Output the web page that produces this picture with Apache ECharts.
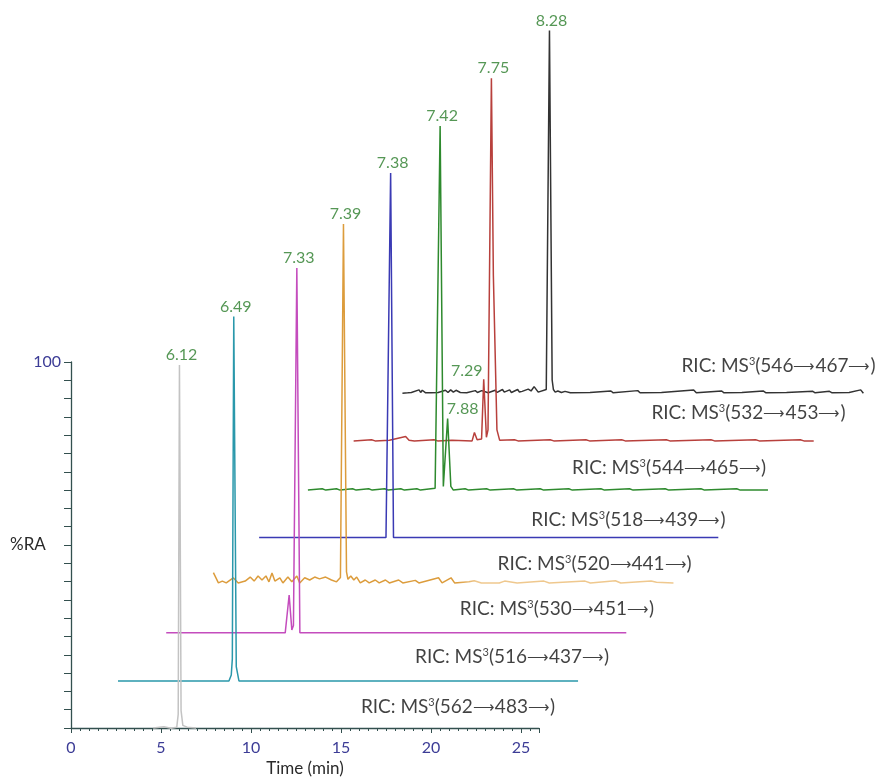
<!DOCTYPE html>
<html>
<head>
<meta charset="utf-8">
<script src="https://cdn.jsdelivr.net/npm/echarts@6/dist/echarts.min.js"></script>
<style>html,body{margin:0;padding:0;background:#fff}#c{width:875px;height:778px}</style>
</head>
<body>
<div id="c"></div>
<script>
// ---- Data (time in min relative to each trace's own start, intensity in %RA) ----
const traceLabels = ['562→483→','516→437→','530→451→','520→441→','518→439→','544→465→','532→453→','546→467→'];

const grayT = [4.6, 5.2, 5.6, 5.92, 6.0, 6.07, 6.16, 6.26, 6.5, 7.0];
const grayV = [0.3, 0.6, 0.2, 0.5, 4, 99.2, 5, 1, 0.5, 0.3];

const tealT = [0, 6.21, 6.34, 6.40, 6.48, 6.62, 6.77, 25.75];
const tealV = [0, 0, 1.6, 6, 99.3, 3.9, 0, 0];

const magentaT = [0, 6.66, 6.88, 7.03, 7.12, 7.31, 7.48, 25.75];
const magentaV = [0, 0, 10.3, 0.8, 2, 99.4, 0, 0];

const orangeT = [0, 0.28, 0.5, 0.72, 1.11, 1.39, 1.78, 2.06, 2.28, 2.5, 2.72, 2.94, 3.11, 3.28, 3.44, 3.72, 3.89, 4.17, 4.39, 4.67, 4.83, 5.11, 5.39, 5.67, 5.94, 6.28, 6.61, 6.89, 7.11, 7.28, 7.45, 7.53, 7.69, 7.86, 8.02, 8.22, 8.5, 8.72, 9.06, 9.28, 9.63, 9.85, 10.37, 10.6, 11.3, 11.5, 12.6, 12.8, 13.3, 13.5, 14.3, 14.6, 15.0, 16.0, 16.3, 17.0, 18.5, 18.8, 20.8, 21.1, 22.5, 22.8, 24.5, 24.8, 25.75];
const orangeV = [2.8, 0, 0.5, 0, 1.4, 0, 0.5, 1.6, 0.5, 1.9, 0.8, 1.9, 0.3, 2.7, 0.5, 1.4, 0, 1.6, 0.3, 1.9, 0, 1.4, 0.8, 1.6, 1.1, 1.6, 0.8, 0.3, 1.5, 97.8, 3, 1, 1.9, 0.8, 1.6, 0, 0.8, 0, 0.8, 0, 0.8, 0, 0.8, 0, 0.7, 0, 1.4, 0, 1.4, 0, 0.3, 0.6, 0, 0, 0.5, 0, 0.5, 0, 0.5, 0, 0.6, 0, 0.5, 0.2, 0];

const blueT = [0, 7.10, 7.36, 7.52, 25.7];
const blueV = [0, 0, 99.3, 0, 0];

const greenT = [0, 0.8, 1.0, 1.6, 1.8, 2.5, 2.7, 3.4, 3.6, 4.3, 4.5, 5.2, 5.4, 6.1, 6.3, 7.12, 7.40, 7.58, 7.82, 8.00, 8.14, 8.8, 9.0, 10.0, 10.2, 11.5, 11.7, 13.0, 13.2, 14.6, 14.8, 16.4, 16.6, 18.0, 18.2, 20.0, 20.2, 22.0, 22.2, 24.0, 24.2, 25.75];
const greenV = [0, 0.35, 0, 0.35, 0, 0.35, 0, 0.35, 0, 0.35, 0, 0.35, 0, 0.35, 0, 0.5, 99.2, 1, 19.5, 1, 0, 0.35, 0, 0.35, 0, 0.35, 0, 0.35, 0, 0.35, 0, 0.35, 0, 0.35, 0, 0.35, 0, 0.35, 0, 0.35, 0, 0];

const redT = [0, 1.0, 1.2, 2.0, 2.91, 3.1, 3.4, 4.5, 4.7, 5.5, 6.63, 6.76, 6.91, 7.16, 7.28, 7.43, 7.52, 7.71, 7.82, 8.02, 8.17, 9.0, 9.2, 11.0, 11.2, 13.0, 13.2, 15.0, 15.2, 17.5, 17.7, 20.0, 20.2, 22.5, 22.7, 25.0, 25.2, 25.75];
const redV = [0, 0.3, 0, 0.2, 1.2, 0.2, 0, 0.3, 0, 0.2, 0, 2.3, 0.3, 0.5, 16.8, 1, 3, 98.8, 45, 3, 0.2, 0.3, 0, 0.3, 0, 0.3, 0, 0.3, 0, 0.3, 0, 0.3, 0, 0.3, 0, 0.3, 0, 0];

const blackT = [0, 0.3, 0.5, 0.93, 1.02, 1.11, 1.3, 1.6, 2.0, 2.41, 2.55, 2.7, 2.85, 3.0, 3.24, 3.6, 4.08, 4.2, 4.44, 4.8, 5.19, 5.3, 5.4, 5.6, 5.7, 5.8, 6.0, 6.1, 6.2, 6.45, 6.55, 6.7, 7.04, 7.2, 7.37, 7.6, 8.05, 8.23, 8.38, 8.45, 8.55, 8.7, 8.8, 8.9, 9.1, 9.2, 9.4, 10.5, 11.67, 11.8, 13.17, 13.3, 14.5, 16.3, 16.45, 17.87, 18.0, 19.0, 20.19, 20.35, 21.5, 22.97, 23.1, 23.9, 24.05, 25.0, 25.65, 25.8];
const blackV = [0, 0.1, 0.2, 0.9, 0.2, 0.8, 0.1, 0.1, 0.2, 0.8, 0.2, 0.9, 0.3, 0.8, 0.2, 0.1, 0.7, 0.2, 0.7, 0.1, 0.8, 0.2, 0.3, 1.0, 0.3, 0.4, 0.9, 0.2, 0.3, 1.0, 0.3, 0.5, 1.1, 0.6, 1.8, 0.3, 1.0, 98.8, 3.6, 1.0, 0.3, 0.6, 0.2, 0.2, 0.5, 0.1, 0.1, 0.2, 0.6, 0.1, 0.7, 0.1, 0.2, 0.9, 0.1, 0.6, 0.1, 0.2, 0.6, 0.1, 0.2, 0.5, 0.1, 0.5, 0.1, 0.2, 0.9, 0];

// peak annotations
const peakText   = ['6.12','6.49','7.33','7.39','7.38','7.42','7.75','8.28','7.29','7.88'];
const peakTrace  = [0, 1, 2, 3, 4, 5, 6, 7, 6, 5];
const peakTime   = [6.07, 6.48, 7.31, 7.28, 7.36, 7.40, 7.71, 8.23, 7.28, 7.82];
const peakHeight = [99.2, 99.3, 99.4, 97.8, 99.3, 99.2, 98.8, 98.8, 16.8, 19.5];

// axis ticks
const xTickStep = 5;
const yTickStep = 5;

// ---- Layout (waterfall shifts, in axis units) ----
const shiftX = [0, 2.63, 5.33, 7.97, 10.53, 13.26, 15.82, 18.55];
const shiftY = [0, 13.1, 26.2, 39.8, 52.2, 65.1, 78.5, 91.5];
const ricAnchorT = [27.09, 27.49, 27.30, 26.77, 26.10, 25.65, 27.53, 26.48];
const ricAnchorV = [6.0, 6.5, 6.5, 5.2, 4.7, 6.0, 7.6, 7.4];
const peakOffset = [[2,0],[2,0],[2,0],[2,0],[2,0],[2,0],[2,0],[2,0],[-17,2],[15,0]];

const orangeFade = new echarts.graphic.LinearGradient(0, 0, 1, 0, [
  { offset: 0, color: '#dc9c3c' }, { offset: 0.53, color: '#dc9c3c' },
  { offset: 0.57, color: '#efc88e' }, { offset: 1, color: '#efc88e' }
]);
const colors = ['#c3c3c3', '#2a98ab', '#c44cbd', orangeFade, '#3a3ab4', '#2e8a2e', '#b8403c', '#333333'];
const traces = [[grayT,grayV],[tealT,tealV],[magentaT,magentaV],[orangeT,orangeV],[blueT,blueV],[greenT,greenV],[redT,redV],[blackT,blackV]];

const PXX = 18, PXY = 3.67, LEFT = 71, BOTTOM = 49;
const FONT = 'Lato, "Open Sans", sans-serif';

const series = [];
for (let i = traces.length - 1; i >= 0; i--) {
  const [T, V] = traces[i];
  series.push({
    type: 'line', xAxisIndex: 1, yAxisIndex: 1, showSymbol: false, symbol: 'none',
    clip: false, silent: true, z: 2 + (traces.length - i),
    lineStyle: { color: colors[i], width: 1.5 },
    data: T.map((t, k) => [t + shiftX[i], V[k] + shiftY[i]])
  });
}
series.push({
  type: 'scatter', xAxisIndex: 1, yAxisIndex: 1, symbolSize: 0, clip: false, silent: true, z: 20,
  data: peakText.map((s, k) => ({
    value: [peakTime[k] + shiftX[peakTrace[k]], peakHeight[k] + shiftY[peakTrace[k]]],
    label: { show: true, formatter: s, position: 'top', distance: 2, offset: peakOffset[k],
      color: '#2a7d2a', fontSize: 16, fontFamily: FONT }
  }))
});
series.push({
  type: 'scatter', xAxisIndex: 1, yAxisIndex: 1, symbolSize: 0, clip: false, silent: true, z: 20,
  data: traceLabels.map((s, k) => {
    const parts = s.split('→');
    return {
      value: [ricAnchorT[k] + shiftX[k], ricAnchorV[k] + shiftY[k]],
      label: { show: true, position: 'left', distance: 0,
        formatter: '{n|RIC: MS}{s|3}{n|(' + parts[0] + '}{a|⟶}{n|' + parts[1] + '}{a|⟶}{n|)}',
        rich: {
          n: { fontSize: 19, fontFamily: FONT, color: '#111', lineHeight: 22 },
          a: { fontSize: 15, fontFamily: FONT, color: '#111', lineHeight: 22 },
          s: { fontSize: 11, fontFamily: FONT, color: '#111', lineHeight: 22, padding: [0, 0, 9, 0] }
        } }
    };
  })
});

const chart = echarts.init(document.getElementById('c'));
chart.setOption({
  animation: false,
  backgroundColor: '#fff',
  grid: [
    { left: LEFT, bottom: BOTTOM, width: 26 * PXX, height: 100 * PXY },
    { left: LEFT, bottom: BOTTOM, width: 45 * PXX, height: 195 * PXY }
  ],
  xAxis: [
    { type: 'value', gridIndex: 0, min: 0, max: 26, interval: xTickStep,
      axisLine: { lineStyle: { color: '#33504f', width: 1.3 } },
      axisTick: { length: 5, lineStyle: { color: '#33504f' } },
      minorTick: { show: true, splitNumber: 10, length: 3, lineStyle: { color: '#33504f' } },
      splitLine: { show: false },
      axisLabel: { color: '#3c3c96', fontSize: 16, margin: 12, fontFamily: FONT,
        formatter: v => (v % 5 === 0 && v <= 25 ? String(v) : '') },
      name: 'Time (min)', nameLocation: 'middle', nameGap: 32,
      nameTextStyle: { color: '#2a2a2a', fontSize: 17, fontFamily: FONT } },
    { type: 'value', gridIndex: 1, min: 0, max: 45, show: false }
  ],
  yAxis: [
    { type: 'value', gridIndex: 0, min: 0, max: 100, interval: yTickStep,
      axisLine: { show: true, lineStyle: { color: '#33504f', width: 1.3 } },
      axisTick: { show: true, length: 7, lineStyle: { color: '#33504f' } },
      splitLine: { show: false },
      axisLabel: { color: '#3c3c96', fontSize: 16, margin: 10, fontFamily: FONT,
        formatter: v => (v === 100 ? '100' : '') } },
    { type: 'value', gridIndex: 1, min: 0, max: 195, show: false }
  ],
  graphic: [
    { type: 'text', left: 10, top: 536, style: { text: '%RA', fontSize: 17, fontFamily: FONT, fill: '#2a2a2a' } }
  ],
  series
});
</script>
</body>
</html>
